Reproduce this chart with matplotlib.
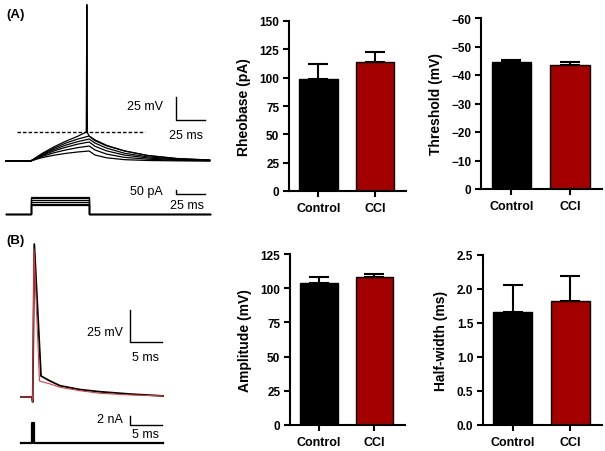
import numpy as np
import matplotlib
matplotlib.use("Agg")
import matplotlib.pyplot as plt

plt.rcParams['font.family'] = ['Liberation Sans', 'DejaVu Sans']

### bar chart data (mean, upper error end)
groups = ['Control', 'CCI']
bar_colors = ['black', '#A50000']

rheobase = [99.2, 113.9]
rheobase_err = [12.6, 9.1]
threshold = [-44.5, -43.6]
threshold_err = [0.8, 1.1]
amplitude = [103.6, 108.4]
amplitude_err = [4.4, 2.0]
halfwidth = [1.655, 1.825]
halfwidth_err = [0.40, 0.365]

### panel A traces (ms, mV above rest)
tA = [-21, 0, 5, 10, 20, 30, 40, 50, 55, 65, 80, 100, 125, 153]
vA_sub = [
    [0, 0, 2.0, 3.8, 6.3, 8.3, 9.8, 10.9, 6.5, 3.5, 1.5, 0.6, 0.2, 0],
    [0, 0, 2.6, 5.0, 9.0, 12.0, 14.5, 16.3, 12.0, 7.5, 4.0, 2.0, 0.8, 0.3],
    [0, 0, 3.0, 6.0, 11.0, 15.0, 18.3, 20.7, 16.0, 11.0, 6.5, 3.3, 1.4, 0.5],
    [0, 0, 3.4, 6.8, 12.5, 17.3, 21.0, 23.9, 19.5, 14.0, 8.5, 4.5, 2.0, 0.8],
    [0, 0, 3.8, 7.6, 14.0, 19.5, 23.8, 27.2, 23.0, 17.0, 11.0, 6.0, 2.8, 1.1],
]
tA_spk = [-21, 0, 5, 10, 20, 30, 40, 47.5, 48, 48.5, 49.2, 50, 55, 65, 80, 100, 125, 153]
vA_spk = [0, 0, 4.2, 8.4, 15.5, 21.5, 26.8, 31.5, 170, 31, 29, 27, 22, 16.5, 11, 6, 2.5, 1.0]
step_amps = [100, 120, 140, 160, 180, 200]  # pA
threshold_line = 31.5

### panel B traces (ms, mV above rest)
tB_ctrl = [-1.72, 0, 0.11, 0.36, 1.41, 2.81, 4.38, 7.5, 10.6, 15.3, 20.5]
vB_ctrl = [0, 0, -3.9, 119.5, 16.4, 12.5, 8.8, 5.8, 4.1, 2.3, 0.8]
tB_cci = [-1.72, 0, 0.11, 0.31, 1.17, 2.81, 4.38, 7.5, 10.6, 15.3, 20.5]
vB_cci = [0, 0, -3.9, 115.6, 12.5, 10.2, 7.6, 4.9, 2.9, 1.6, 0.8]
tB_stim = [-1.72, 0, 0, 0.3, 0.3, 20.5]
iB_stim = [0, 0, 4.4, 4.4, 0, 0]  # nA

W, H = 605, 452
fig = plt.figure(figsize=(W / 100, H / 100), dpi=100)


def px_axes(x0, y0, x1, y1):
    return fig.add_axes([x0 / W, 1 - y1 / H, (x1 - x0) / W, (y1 - y0) / H])


def bar_panel(ax, vals, errs, ylabel, ylim, ticks, ticklabels=None, neg=False):
    x = np.arange(len(groups))
    if neg:
        yerr = [errs, [0] * len(errs)]
    else:
        yerr = [[0] * len(errs), errs]
    ax.bar(x, vals, width=0.68, color=bar_colors, edgecolor='black', linewidth=1, zorder=2)
    ax.errorbar(x, vals, yerr=yerr, fmt='none', ecolor='black', elinewidth=1.5,
                capsize=7, capthick=1.5, zorder=1)
    ax.set_xlim(-0.52, 1.55)
    ax.set_ylim(*ylim)
    ax.set_yticks(ticks)
    if ticklabels is not None:
        ax.set_yticklabels(ticklabels)
    ax.set_xticks(x)
    ax.set_xticklabels(groups)
    for s in ['top', 'right']:
        ax.spines[s].set_visible(False)
    for s in ['left', 'bottom']:
        ax.spines[s].set_linewidth(1.5)
    ax.tick_params(width=1.5, length=4, labelsize=8.5, pad=3)
    ax.tick_params(axis='x', labelsize=9, pad=4)
    for lab in ax.get_xticklabels() + ax.get_yticklabels():
        lab.set_fontweight('bold')
    ax.set_ylabel(ylabel, fontsize=10, fontweight='bold', labelpad=6)


ax1 = px_axes(289, 22, 406, 192)
bar_panel(ax1, rheobase, rheobase_err, 'Rheobase (pA)', (0, 150), range(0, 151, 25))

ax2 = px_axes(481, 19, 602, 190)
bar_panel(ax2, threshold, threshold_err, 'Threshold (mV)', (0, -60), range(0, -61, -10),
          ticklabels=['0', '\u221210', '\u221220', '\u221230', '\u221240', '\u221250', '\u221260'],
          neg=True)

ax3 = px_axes(290, 255, 405, 426)
bar_panel(ax3, amplitude, amplitude_err, 'Amplitude (mV)', (0, 125), range(0, 126, 25))

ax4 = px_axes(483, 256, 602, 426)
bar_panel(ax4, halfwidth, halfwidth_err, 'Half-width (ms)', (0, 2.5), np.arange(0, 2.51, 0.5),
          ticklabels=['0.0', '0.5', '1.0', '1.5', '2.0', '2.5'])

### Panel A voltage
axa = px_axes(0, 0, 215, 175)
axa.set_xlim(-26.2, 157.5)
axa.set_ylim(-14.1, 176.1)
axa.axis('off')
for v in vA_sub:
    axa.plot(tA, v, color='black', lw=0.9)
axa.plot(tA_spk, vA_spk, color='black', lw=0.9)
axa.plot([-11.7, 97.7], [threshold_line, threshold_line], color='black', lw=1, ls=(0, (2.5, 1.5)))
axa.plot([124.2, 124.2, 149.2], [69.6, 44.6, 44.6], color='black', lw=1)
axa.text(113.1, 59.8, '25 mV', ha='right', va='center', fontsize=9)
axa.text(133, 28.3, '25 ms', ha='center', va='center', fontsize=9)

### Panel A current
axi = px_axes(0, 180, 215, 222)
axi.set_xlim(-26.2, 157.5)
axi.set_ylim(-81, 406)
axi.axis('off')
for a in step_amps:
    axi.plot([-21, 0, 0, 50, 50, 153], [0, 0, a, a, 0, 0], color='black', lw=0.9)
axi.plot([124.2, 124.2, 149.2], [282, 232, 232], color='black', lw=1)
axi.text(113.1, 267, '50 pA', ha='right', va='center', fontsize=9)
axi.text(134, 110, '25 ms', ha='center', va='center', fontsize=9)

### Panel B voltage
axb = px_axes(0, 225, 215, 410)
axb.set_xlim(-5, 28.6)
axb.set_ylim(-9.4, 135.2)
axb.axis('off')
axb.plot(tB_ctrl, vB_ctrl, color='black', lw=1.3)
axb.plot(tB_cci, vB_cci, color='#E8383A', lw=0.8)
axb.plot([15.3, 15.3, 20.3], [68, 43, 43], color='black', lw=1)
axb.text(14.2, 50.8, '25 mV', ha='right', va='center', fontsize=9)
axb.text(17.8, 31.2, '5 ms', ha='center', va='center', fontsize=9)

### Panel B current
axbi = px_axes(0, 410, 215, 452)
axbi.set_xlim(-5, 28.6)
axbi.set_ylim(-1.78, 7.56)
axbi.axis('off')
axbi.plot(tB_stim, iB_stim, color='black', lw=1.6)
axbi.plot([15.3, 15.3, 20.3], [6, 4, 4], color='black', lw=1)
axbi.text(14.2, 5.4, '2 nA', ha='right', va='center', fontsize=9)
axbi.text(17.8, 1.9, '5 ms', ha='center', va='center', fontsize=9)

fig.text(6 / W, 1 - 15 / H, '(A)', fontsize=9.5, fontweight='bold', va='center')
fig.text(6 / W, 1 - 241 / H, '(B)', fontsize=9.5, fontweight='bold', va='center')

fig.savefig('out.png', dpi=100)
